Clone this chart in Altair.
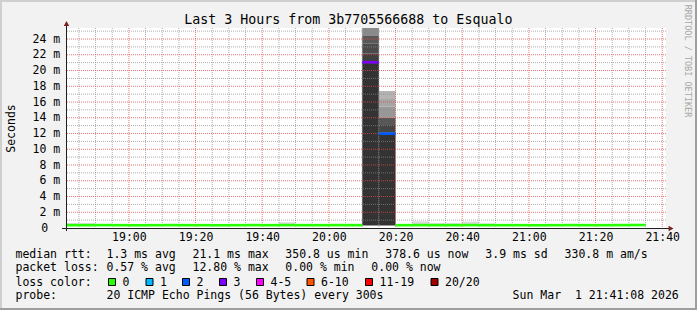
import altair as alt
import pandas as pd

# ---------------- data ----------------
DAY = "2026-03-01"
T_FROM = "18:41:08"
T_TO = "21:41:08"
BIN_FIRST = "18:40"
N_BINS = 35
STEP_MIN = 5

median_ms = [0.36, 0.36, 0.37, 0.36, 0.35, 0.36, 0.37, 0.36, 0.36, 0.35,
             0.36, 0.37, 0.36, 0.37, 0.36, 0.36, 0.37, 0.36, 21.05, 11.98,
             0.36, 0.37, 0.36, 0.36, 0.37, 0.36, 0.36, 0.36, 0.35, 0.36,
             0.37, 0.36, 0.36, 0.37, 0.38]
loss_count = [0] * 18 + [3, 2] + [0] * 15
smoke_lo_ms = [0.32] * 35
smoke_hi_ms = [0.62, 0.62, 0.46, 0.45, 0.44, 0.45, 0.45, 0.44, 0.46, 0.45,
               0.44, 0.46, 0.47, 0.73, 0.52, 0.50, 0.51, 0.53, None, None,
               0.46, 0.85, 0.62, 0.61, 0.81, 0.58, 0.46, 0.45, 0.44, 0.46,
               0.45, 0.44, 0.45, 0.46, 0.44]
spike_index = [18, 19]
spike_edges_ms = [
    [0.32, 21.15, 22.14, 23.40, 24.47, 26.5],
    [0.32, 12.10, 13.08, 14.00, 15.40, 16.38, 17.40],
]

y_max_ms = 25.4
y_tick_ms = list(range(0, 25, 2))
y_minor_ms = list(range(1, 26, 2))
x_major = ["19:00", "19:20", "19:40", "20:00", "20:20", "20:40", "21:00", "21:20", "21:40"]

loss_labels = ["0", "1", "2", "3", "4-5", "6-10", "11-19", "20/20"]
loss_colors = ["#26ff00", "#00b8ff", "#0059ff", "#7e00ff", "#ff00ff", "#ff5500", "#ff0000", "#a10000"]

title_text = "Last 3 Hours from 3b7705566688 to Esqualo"
y_title_text = "Seconds"
watermark_text = "RRDTOOL / TOBI OETIKER"
legend_rows = [
    ["median rtt:", "1.3 ms avg", "21.1 ms max", "350.8 us min", "378.6 us now", "3.9 ms sd", "330.8 m am/s"],
    ["packet loss:", "0.57 % avg", "12.80 % max", "0.00 % min", "0.00 % now"],
    ["loss color:"],
    ["probe:", "20 ICMP Echo Pings (56 Bytes) every 300s", "Sun Mar  1 21:41:08 2026"],
]

# ---------------- styles / layout ----------------
MONO = "DejaVu Sans Mono"
FS = 11.5
W, H = 600, 200
LEFT, TOP = 66, 28
RIGHT = 697 - LEFT - W
BOTTOM = 310 - TOP - H
SMOKE_LIGHT = "#d9d9d9"
spike_shades = [
    ["#333333", "#3f3f3f", "#4b4b4b", "#595959", "#8a8a8a"],
    ["#333333", "#454545", "#575757", "#989898", "#a6a6a6", "#b4b4b4"],
]
legend_x = [
    [15.5, 106.5, 192.5, 285.3, 385.3, 485.3, 564.6],
    [15.5, 106.5, 192.5, 285.3, 371.3],
    [15.5],
    [15.5, 106.5, 512.6],
]
legend_base_y = [257.5, 271.3, 285.6, 299.4]
swatch_x = [108, 145.5, 182, 219, 256, 306.5, 365, 430.5]


def ms(hm):
    return int(pd.Timestamp(f"{DAY} {hm}", tz="UTC").value // 1_000_000)


def loss_bucket(n):
    if n <= 3:
        return str(n)
    if n <= 5:
        return "4-5"
    if n <= 10:
        return "6-10"
    if n <= 19:
        return "11-19"
    return "20/20"


starts = pd.date_range(f"{DAY} {BIN_FIRST}", periods=N_BINS, freq=f"{STEP_MIN}min", tz="UTC")
smoke_rows, med_rows = [], []
for i, s in enumerate(starts):
    a = int(s.value // 1_000_000)
    b = a + STEP_MIN * 60_000
    if i in spike_index:
        k = spike_index.index(i)
        e = spike_edges_ms[k]
        for j in range(len(e) - 1):
            smoke_rows.append(dict(start=a, end=b, lo=e[j], hi=e[j + 1], shade=spike_shades[k][j]))
    else:
        smoke_rows.append(dict(start=a, end=b, lo=smoke_lo_ms[i], hi=smoke_hi_ms[i], shade=SMOKE_LIGHT))
    med_rows.append(dict(start=a, end=b, med=median_ms[i], loss=loss_bucket(loss_count[i])))
smoke_df = pd.DataFrame(smoke_rows)
med_df = pd.DataFrame(med_rows)

major_ms = [ms(t) for t in x_major]
minor_ms = [t for t in range(ms("18:45"), ms("21:41"), 5 * 60_000) if t not in major_ms]

xscale = alt.Scale(type="utc", domain=[ms(T_FROM), ms(T_TO)])
yscale = alt.Scale(domain=[0, y_max_ms], nice=False, zero=False)

xaxis = alt.Axis(values=major_ms, labelExpr="utcFormat(datum.value, '%H:%M')",
                 grid=False, ticks=False,
                 domain=False, labelFlush=False, labelOverlap=False, labelPadding=12.7,
                 labelBaseline="alphabetic", title=None)
yaxis = alt.Axis(values=y_tick_ms, labelExpr="datum.value == 0 ? '0' : datum.value + ' m'",
                 grid=False, ticks=False, domain=False,
                 labelPadding={"condition": {"test": "datum.value == 0", "value": 18.3}, "value": 6.2},
                 title=y_title_text, titleAngle=270, titleX=11.5 - LEFT, titleY=128 - TOP,
                 titleAlign="center", titleBaseline="middle")

smoke = alt.Chart(smoke_df).mark_rect(clip=True).encode(
    x=alt.X("start:T", scale=xscale, axis=xaxis),
    x2="end",
    y=alt.Y("lo:Q", scale=yscale, axis=yaxis),
    y2="hi",
    fill=alt.Fill("shade:N", scale=None),
)


def hrule(vals, color, op):
    return alt.Chart(pd.DataFrame({"v": vals})).mark_rule(
        stroke=color, strokeWidth=1, strokeDash=[1, 1], opacity=op
    ).encode(y=alt.Y("v:Q", scale=yscale, axis=yaxis))


def vrule(vals, color, op):
    return alt.Chart(pd.DataFrame({"t": vals})).mark_rule(
        stroke=color, strokeWidth=1, strokeDash=[1, 1], opacity=op
    ).encode(x=alt.X("t:T", scale=xscale, axis=xaxis))


GRID_MINOR = "#8a8a8a"
GRID_MAJOR = "#e04848"
grids = [
    hrule(y_minor_ms, GRID_MINOR, 0.7),
    vrule(minor_ms, GRID_MINOR, 0.7),
    hrule(y_tick_ms[1:], GRID_MAJOR, 0.75),
    vrule(major_ms, GRID_MAJOR, 0.75),
]

median = alt.Chart(med_df).mark_rule(strokeWidth=2.6, clip=True).encode(
    x=alt.X("start:T", scale=xscale, axis=xaxis),
    x2="end",
    y=alt.Y("med:Q", scale=yscale, axis=yaxis),
    color=alt.Color("loss:N", scale=alt.Scale(domain=loss_labels, range=loss_colors), legend=None),
)

one = alt.Data(values=[{"a": 1}])


def px(v, o):
    return alt.value(v - o)


# axis lines and arrows (rrdtool style)
axis_v = alt.Chart(one).mark_rule(stroke="#1f1f1f", strokeWidth=1).encode(
    x=px(66.5, LEFT), y=px(22, TOP), y2=px(231, TOP))
axis_h = alt.Chart(one).mark_rule(stroke="#1f1f1f", strokeWidth=1).encode(
    x=px(62, LEFT), x2=px(670, LEFT), y=px(228.5, TOP))
arrow_up = alt.Chart(one).mark_point(shape="M-1,0.8L0,-1L1,0.8Z", filled=True, size=30,
                                     color="#7f1f1f", opacity=1).encode(
    x=px(66.5, LEFT), y=px(23.8, TOP))
arrow_right = alt.Chart(one).mark_point(shape="M-0.8,-1L1,0L-0.8,1Z", filled=True, size=30,
                                        color="#7f1f1f", opacity=1).encode(
    x=px(670.8, LEFT), y=px(228.5, TOP))

# frame shading
frame_df = pd.DataFrame([
    dict(x=0, x2=697, y=0, y2=2, c="#cfcfcf"),
    dict(x=0, x2=2, y=0, y2=310, c="#cfcfcf"),
    dict(x=695, x2=697, y=0, y2=310, c="#9e9e9e"),
    dict(x=0, x2=697, y=308, y2=310, c="#9e9e9e"),
])
for col, o in (("x", LEFT), ("x2", LEFT), ("y", TOP), ("y2", TOP)):
    frame_df[col] = frame_df[col] - o
frame = alt.Chart(frame_df).mark_rect().encode(
    x=alt.X("x:Q", scale=None), x2="x2", y=alt.Y("y:Q", scale=None), y2="y2",
    fill=alt.Fill("c:N", scale=None))

# title
title = alt.Chart(alt.Data(values=[{"t": title_text}])).mark_text(
    font=MONO, fontSize=13.3, align="center", baseline="alphabetic", color="black").encode(
    text="t:N", x=px(348.3, LEFT), y=px(24.2, TOP))

watermark = alt.Chart(alt.Data(values=[{"t": watermark_text}])).mark_text(
    font=MONO, fontSize=8.5, align="center", baseline="middle", angle=90, color="#a8a8a8").encode(
    text="t:N", x=px(688, LEFT), y=px(61, TOP))

# legend text
leg_rows = []
for r, row in enumerate(legend_rows):
    for c, txt in enumerate(row):
        leg_rows.append(dict(t=txt.replace("  ", " \u00a0"), x=legend_x[r][c] - LEFT,
                             y=legend_base_y[r] - TOP))
for k, lab in enumerate(loss_labels):
    leg_rows.append(dict(t=lab, x=swatch_x[k] + 14.5 - LEFT, y=legend_base_y[2] - TOP))
legend_text = alt.Chart(pd.DataFrame(leg_rows)).mark_text(
    font=MONO, fontSize=FS, align="left", baseline="alphabetic", color="black").encode(
    text="t:N", x=alt.X("x:Q", scale=None), y=alt.Y("y:Q", scale=None))

sw_df = pd.DataFrame(dict(
    x=[v + 0.5 - LEFT for v in swatch_x],
    x2=[v + 7.5 - LEFT for v in swatch_x],
    y=[278.5 - TOP] * len(swatch_x),
    y2=[285.5 - TOP] * len(swatch_x),
    c=loss_colors,
))
swatches = alt.Chart(sw_df).mark_rect(stroke="black", strokeWidth=1).encode(
    x=alt.X("x:Q", scale=None), x2="x2", y=alt.Y("y:Q", scale=None), y2="y2",
    fill=alt.Fill("c:N", scale=None))

chart = alt.layer(
    smoke, *grids, median, axis_v, axis_h, arrow_up, arrow_right,
    frame, title, watermark, legend_text, swatches,
).properties(
    width=W, height=H,
    padding={"left": LEFT, "top": TOP, "right": RIGHT, "bottom": BOTTOM},
    autosize=alt.AutoSizeParams(type="none"),
    background="#f2f2f2",
).configure_view(
    fill="white", stroke=None,
).configure_axis(
    labelFont=MONO, labelFontSize=FS, labelColor="black",
    titleFont=MONO, titleFontSize=FS, titleFontWeight="normal", titleColor="black",
)

chart.save("out.html", embed_options={"renderer": "svg", "actions": False})
